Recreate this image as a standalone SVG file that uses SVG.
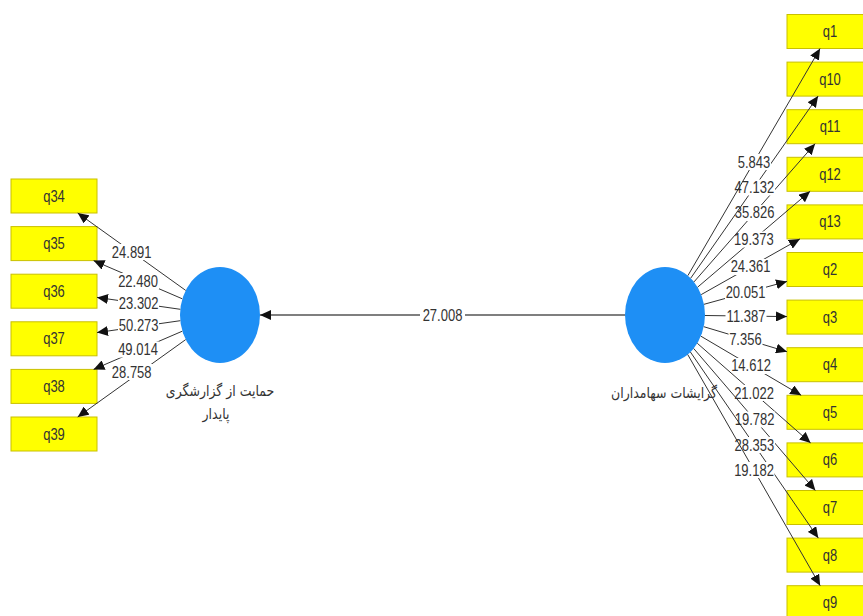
<svg xmlns="http://www.w3.org/2000/svg" width="863" height="616" viewBox="0 0 863 616">
<style>
.box{fill:#ffff00;stroke:#c9c000;stroke-width:1}
.t{font-family:"Liberation Sans",Arial,sans-serif;font-size:13px;fill:#333;text-anchor:middle}
.lv{fill:#1e8ff5}
.fa{font-family:"DejaVu Sans","Noto Sans",sans-serif;font-size:12.5px;fill:#333;text-anchor:middle}
.ln{stroke:#333;stroke-width:1;fill:none;marker-end:url(#ah)}
.ln2{stroke:#555;stroke-width:1.6;fill:none;marker-end:url(#ah)}
.bg{fill:#fff}
</style>
<defs>
<marker id="ah" markerUnits="userSpaceOnUse" markerWidth="11" markerHeight="10" refX="11" refY="5" orient="auto">
<path d="M0,0 L11,5 L0,10 Z" fill="#111"/>
</marker>
</defs>
<rect width="863" height="616" fill="#fff"/>
<g id="nodes">
<g id="lv-support"><ellipse class="lv" cx="220" cy="315" rx="40" ry="48"/><text class="fa" transform="translate(220 391) scale(1 1.2)" y="4">حمایت از گزارشگری</text><text class="fa" transform="translate(216 414) scale(1 1.2)" y="4">پایدار</text></g>
<g id="lv-shareholders"><ellipse class="lv" cx="665" cy="315" rx="40" ry="48"/><text class="fa" transform="translate(664 393) scale(1 1.2)" y="4">گرایشات سهامداران</text></g>
<g id="n-q34"><rect class="box" x="11" y="179" width="86" height="34"/><text class="t" transform="translate(54 196) scale(1 1.2)" y="4.6">q34</text></g>
<g id="n-q35"><rect class="box" x="11" y="226.6" width="86" height="34"/><text class="t" transform="translate(54 243.6) scale(1 1.2)" y="4.6">q35</text></g>
<g id="n-q36"><rect class="box" x="11" y="274.2" width="86" height="34"/><text class="t" transform="translate(54 291.2) scale(1 1.2)" y="4.6">q36</text></g>
<g id="n-q37"><rect class="box" x="11" y="321.8" width="86" height="34"/><text class="t" transform="translate(54 338.8) scale(1 1.2)" y="4.6">q37</text></g>
<g id="n-q38"><rect class="box" x="11" y="369.4" width="86" height="34"/><text class="t" transform="translate(54 386.4) scale(1 1.2)" y="4.6">q38</text></g>
<g id="n-q39"><rect class="box" x="11" y="417" width="86" height="34"/><text class="t" transform="translate(54 434) scale(1 1.2)" y="4.6">q39</text></g>
<g id="n-q1"><rect class="box" x="787" y="14.5" width="86" height="34"/><text class="t" transform="translate(830 31.5) scale(1 1.2)" y="4.6">q1</text></g>
<g id="n-q10"><rect class="box" x="787" y="62.1" width="86" height="34"/><text class="t" transform="translate(830 79.1) scale(1 1.2)" y="4.6">q10</text></g>
<g id="n-q11"><rect class="box" x="787" y="109.7" width="86" height="34"/><text class="t" transform="translate(830 126.7) scale(1 1.2)" y="4.6">q11</text></g>
<g id="n-q12"><rect class="box" x="787" y="157.3" width="86" height="34"/><text class="t" transform="translate(830 174.3) scale(1 1.2)" y="4.6">q12</text></g>
<g id="n-q13"><rect class="box" x="787" y="204.9" width="86" height="34"/><text class="t" transform="translate(830 221.9) scale(1 1.2)" y="4.6">q13</text></g>
<g id="n-q2"><rect class="box" x="787" y="252.5" width="86" height="34"/><text class="t" transform="translate(830 269.5) scale(1 1.2)" y="4.6">q2</text></g>
<g id="n-q3"><rect class="box" x="787" y="300.1" width="86" height="34"/><text class="t" transform="translate(830 317.1) scale(1 1.2)" y="4.6">q3</text></g>
<g id="n-q4"><rect class="box" x="787" y="347.7" width="86" height="34"/><text class="t" transform="translate(830 364.7) scale(1 1.2)" y="4.6">q4</text></g>
<g id="n-q5"><rect class="box" x="787" y="395.3" width="86" height="34"/><text class="t" transform="translate(830 412.3) scale(1 1.2)" y="4.6">q5</text></g>
<g id="n-q6"><rect class="box" x="787" y="442.9" width="86" height="34"/><text class="t" transform="translate(830 459.9) scale(1 1.2)" y="4.6">q6</text></g>
<g id="n-q7"><rect class="box" x="787" y="490.5" width="86" height="34"/><text class="t" transform="translate(830 507.5) scale(1 1.2)" y="4.6">q7</text></g>
<g id="n-q8"><rect class="box" x="787" y="538.1" width="86" height="34"/><text class="t" transform="translate(830 555.1) scale(1 1.2)" y="4.6">q8</text></g>
<g id="n-q9"><rect class="box" x="787" y="585.7" width="86" height="34"/><text class="t" transform="translate(830 602.7) scale(1 1.2)" y="4.6">q9</text></g>
</g>
<g id="connectors">
<line class="ln2" x1="625" y1="315" x2="260" y2="315"/><rect class="bg" x="420" y="307" width="45" height="16"/><text class="t" transform="translate(442.5 315) scale(1 1.2)" y="4.6">27.008</text>
<line class="ln" x1="185.7" y1="290.4" x2="77.7" y2="213"/><rect class="bg" x="111" y="244" width="41" height="16"/><text class="t" transform="translate(131.7 252) scale(1 1.2)" y="4.6">24.891</text>
<line class="ln" x1="182.3" y1="298.8" x2="93.5" y2="260.6"/><rect class="bg" x="118" y="273" width="41" height="16"/><text class="t" transform="translate(138 281) scale(1 1.2)" y="4.6">22.480</text>
<line class="ln" x1="180.3" y1="309.3" x2="97" y2="297.4"/><rect class="bg" x="118" y="295" width="41" height="16"/><text class="t" transform="translate(138.7 303) scale(1 1.2)" y="4.6">23.302</text>
<line class="ln" x1="180.3" y1="320.7" x2="97" y2="332.6"/><rect class="bg" x="118" y="318" width="41" height="15"/><text class="t" transform="translate(138.7 325.5) scale(1 1.2)" y="4.6">50.273</text>
<line class="ln" x1="182.3" y1="331.2" x2="93.5" y2="369.4"/><rect class="bg" x="118" y="341.5" width="41" height="16"/><text class="t" transform="translate(138 349.5) scale(1 1.2)" y="4.6">49.014</text>
<line class="ln" x1="185.7" y1="339.6" x2="77.7" y2="417"/><rect class="bg" x="111" y="364" width="41" height="16"/><text class="t" transform="translate(131.7 372) scale(1 1.2)" y="4.6">28.758</text>
<line class="ln" x1="704" y1="304.3" x2="787" y2="281.4"/><rect class="bg" x="725" y="285" width="41" height="16"/><text class="t" transform="translate(745.5 292.9) scale(1 1.2)" y="4.6">20.051</text>
<line class="ln" x1="701.2" y1="294.6" x2="799.9" y2="238.9"/><rect class="bg" x="730" y="259" width="41" height="16"/><text class="t" transform="translate(750.5 266.7) scale(1 1.2)" y="4.6">24.361</text>
<line class="ln" x1="697.6" y1="287.2" x2="810.1" y2="191.3"/><rect class="bg" x="733" y="231.5" width="41" height="16"/><text class="t" transform="translate(753.8 239.3) scale(1 1.2)" y="4.6">19.373</text>
<line class="ln" x1="694" y1="281.9" x2="815.1" y2="143.7"/><rect class="bg" x="734" y="205" width="41" height="16"/><text class="t" transform="translate(754.6 212.8) scale(1 1.2)" y="4.6">35.826</text>
<line class="ln" x1="690.7" y1="278.2" x2="818.1" y2="96.1"/><rect class="bg" x="734" y="179.5" width="41" height="16"/><text class="t" transform="translate(754.4 187.2) scale(1 1.2)" y="4.6">47.132</text>
<line class="ln" x1="687.9" y1="275.6" x2="820.1" y2="48.5"/><rect class="bg" x="737" y="154" width="34" height="16"/><text class="t" transform="translate(754 162) scale(1 1.2)" y="4.6">5.843</text>
<line class="ln" x1="705" y1="315.5" x2="787" y2="316.6"/><rect class="bg" x="725.5" y="308" width="41" height="16"/><text class="t" transform="translate(746 316) scale(1 1.2)" y="4.6">11.387</text>
<line class="ln" x1="703.8" y1="326.7" x2="787" y2="351.7"/><rect class="bg" x="728.5" y="331" width="34" height="16"/><text class="t" transform="translate(745.4 339.2) scale(1 1.2)" y="4.6">7.356</text>
<line class="ln" x1="700.9" y1="336.2" x2="801.2" y2="395.3"/><rect class="bg" x="730.5" y="358" width="41" height="16"/><text class="t" transform="translate(751 365.7) scale(1 1.2)" y="4.6">14.612</text>
<line class="ln" x1="697.3" y1="343.3" x2="810.6" y2="442.9"/><rect class="bg" x="733.5" y="385" width="41" height="16"/><text class="t" transform="translate(754 393.1) scale(1 1.2)" y="4.6">21.022</text>
<line class="ln" x1="693.7" y1="348.5" x2="815.4" y2="490.5"/><rect class="bg" x="734" y="411.5" width="41" height="16"/><text class="t" transform="translate(754.6 419.5) scale(1 1.2)" y="4.6">19.782</text>
<line class="ln" x1="690.4" y1="352" x2="818.3" y2="538.1"/><rect class="bg" x="734" y="437" width="41" height="16"/><text class="t" transform="translate(754.4 445) scale(1 1.2)" y="4.6">28.353</text>
<line class="ln" x1="687.7" y1="354.5" x2="820.2" y2="585.7"/><rect class="bg" x="733.5" y="462" width="41" height="16"/><text class="t" transform="translate(754 470.1) scale(1 1.2)" y="4.6">19.182</text>
</g>
</svg>
